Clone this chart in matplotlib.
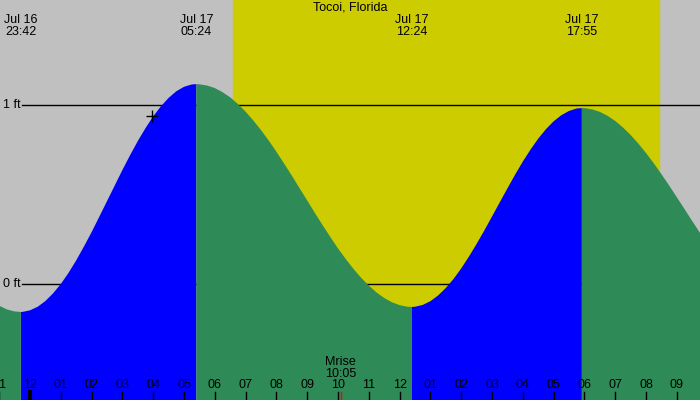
import numpy as np
import matplotlib.pyplot as plt

# 地點
station = 'Tocoi, Florida'
# 潮汐極值 (以 7/17 00:00 起算的小時, 高度 ft)
ext_labels = ['Jul 16\n23:42', 'Jul 17\n05:24', 'Jul 17\n12:24', 'Jul 17\n17:55']
ext_times = [-0.3, 5.4, 12.4, 17.917]
ext_heights = [-0.156, 1.117, -0.128, 0.983]
# 潮位曲線 (每 15 分鐘)
tide_times = [-1.0, -0.75, -0.5, -0.3, -0.25, 0.0, 0.25, 0.5, 0.75, 1.0, 1.25, 1.5, 1.75,
              2.0, 2.25, 2.5, 2.75, 3.0, 3.25, 3.5, 3.75, 4.0, 4.25, 4.5, 4.75, 5.0, 5.25, 5.4,
              5.5, 5.75, 6.0, 6.25, 6.5, 6.75, 7.0, 7.25, 7.5, 7.75, 8.0, 8.25, 8.5, 8.75,
              9.0, 9.25, 9.5, 9.75, 10.0, 10.25, 10.5, 10.75, 11.0, 11.25, 11.5, 11.75, 12.0, 12.25, 12.4,
              12.5, 12.75, 13.0, 13.25, 13.5, 13.75, 14.0, 14.25, 14.5, 14.75, 15.0, 15.25,
              15.5, 15.75, 16.0, 16.25, 16.5, 16.75, 17.0, 17.25, 17.5, 17.75, 17.917,
              18.0, 18.25, 18.5, 18.75, 19.0, 19.25, 19.5, 19.75, 20.0, 20.25, 20.5, 20.75,
              21.0, 21.25, 21.5, 21.75, 22.0]
tide_heights = [-0.121, -0.142, -0.153, -0.156, -0.156, -0.147, -0.127, -0.095, -0.052, 0.000, 0.062, 0.132, 0.209,
                0.290, 0.376, 0.463, 0.550, 0.637, 0.720, 0.799, 0.871, 0.937, 0.993, 1.040, 1.077, 1.102, 1.115, 1.117,
                1.116, 1.109, 1.095, 1.072, 1.043, 1.006, 0.963, 0.914, 0.860, 0.802, 0.739, 0.673, 0.606, 0.536,
                0.467, 0.397, 0.329, 0.263, 0.199, 0.140, 0.085, 0.035, -0.009, -0.047, -0.078, -0.102, -0.118, -0.127, -0.128,
                -0.127, -0.117, -0.096, -0.064, -0.022, 0.028, 0.087, 0.153, 0.224, 0.299, 0.377, 0.456,
                0.534, 0.611, 0.684, 0.751, 0.812, 0.865, 0.909, 0.943, 0.967, 0.981, 0.983,
                0.983, 0.976, 0.962, 0.940, 0.911, 0.875, 0.833, 0.785, 0.732, 0.675, 0.614, 0.551,
                0.485, 0.419, 0.352, 0.287, 0.223]
# 日出日落 / 月出
sunrise = 6.59
sunset = 20.42
moonrise = 10.083
moon_label = 'Mrise\n10:05'
# 目前時間標記
now_time = 3.96
now_height = 0.939
# 時間刻度
hour_ticks = list(range(-1, 22))
hour_labels = ['11', '12', '01', '02', '03', '04', '05', '06', '07', '08', '09', '10', '11',
               '12', '01', '02', '03', '04', '05', '06', '07', '08', '09']
level_ticks = [0, 1]
level_labels = ['0 ft', '1 ft']

plt.rcParams['font.family'] = ['Liberation Sans', 'DejaVu Sans']
fs = 9

fig = plt.figure(figsize=(7, 4), dpi=100)
fig.patch.set_facecolor('#c0c0c0')
ax = fig.add_axes([0, 0, 1, 1])
ax.set_xlim(-0.974, 21.753)
ax.set_ylim(-0.648, 1.587)
ax.axis('off')

# 白天
ax.axvspan(sunrise, sunset, color='#cccc00', zorder=1)

# 水位線
for lv, lab in zip(level_ticks, level_labels):
    ax.axhline(lv, xmin=22 / 700, color='black', lw=1, zorder=2)
    ax.text(3 / 700, lv, lab, transform=ax.get_yaxis_transform(),
            ha='left', va='center', fontsize=fs, zorder=5)

# 漲潮 / 退潮
t = np.array(tide_times)
h = np.array(tide_heights)
rising = np.zeros(len(t), dtype=bool)
for i in range(len(ext_times) - 1):
    if ext_heights[i] < ext_heights[i + 1]:
        rising |= (t >= ext_times[i]) & (t <= ext_times[i + 1])
falling = ~rising
for i in range(len(t)):
    if t[i] in ext_times:
        falling[i] = True
ax.fill_between(t, h, -0.648, where=rising, color='#0000ff', lw=0, zorder=3)
ax.fill_between(t, h, -0.648, where=falling, color='#2e8b57', lw=0, zorder=3)

ax.plot([now_time], [now_height], marker='+', color='black', ms=9, mew=1, zorder=4)

# 標題與極值標籤
tr = ax.get_xaxis_transform()
ax.text(0.5, 1 - 8 / 400, station, transform=ax.transAxes, ha='center', va='center', fontsize=fs)
for et, lab in zip(ext_times, ext_labels):
    ax.text(et, 1 - 26 / 400, lab, transform=tr, ha='center',
            va='center', fontsize=fs, linespacing=0.9)

# 時間刻度
for ht, lab in zip(hour_ticks, hour_labels):
    ax.plot([ht, ht], [0, 8 / 400], color='black', lw=1, transform=tr, zorder=5)
    ax.text(ht, 15 / 400, lab, transform=tr, ha='center', va='center', fontsize=fs, zorder=5)
ax.plot([0, 0], [0, 8 / 400], color='black', lw=3, transform=tr, zorder=5)
ax.plot([moonrise, moonrise], [0, 8 / 400], color='red', lw=1, transform=tr, zorder=5)
ax.text(moonrise, 32 / 400, moon_label, transform=tr, ha='center', va='center',
        fontsize=fs, linespacing=0.9, zorder=5)

plt.savefig('out.png', dpi=100, facecolor='#c0c0c0')
